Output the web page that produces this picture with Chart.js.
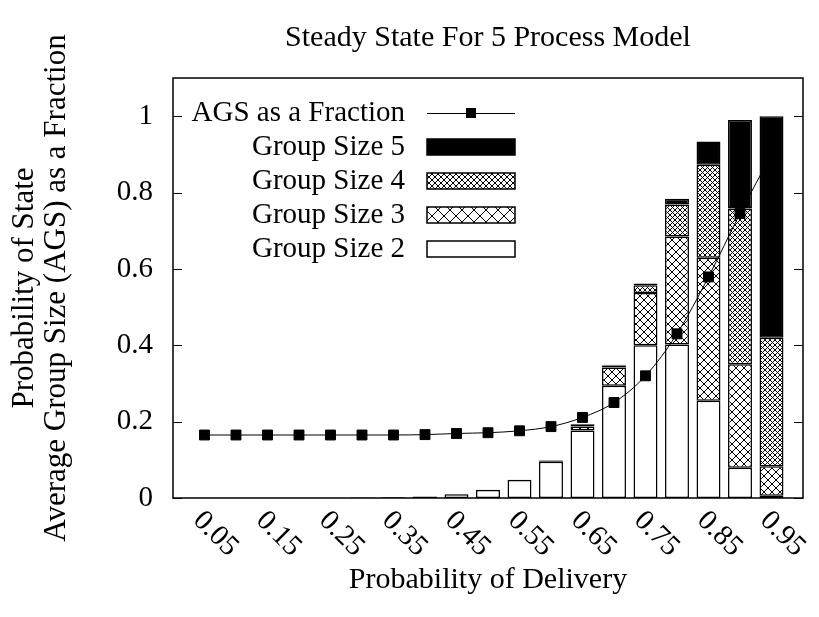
<!DOCTYPE html>
<html>
<head>
<meta charset="utf-8">
<script src="https://cdn.jsdelivr.net/npm/chart.js@4/dist/chart.umd.min.js"></script>
<style>
  html, body { margin: 0; padding: 0; background: #fff; }
  #wrap { width: 819px; height: 617px; }
</style>
</head>
<body>
<div id="wrap"><canvas id="chart" width="819" height="617"></canvas></div>
<script>
// probability of delivery (one bar per value)
const deliveryProb = [0.05, 0.10, 0.15, 0.20, 0.25, 0.30, 0.35, 0.40, 0.45, 0.50,
                      0.55, 0.60, 0.65, 0.70, 0.75, 0.80, 0.85, 0.90, 0.95];
const xTickValues = [0.05, 0.15, 0.25, 0.35, 0.45, 0.55, 0.65, 0.75, 0.85, 0.95];
const xTickLabels = ['0.05', '0.15', '0.25', '0.35', '0.45', '0.55', '0.65', '0.75', '0.85', '0.95'];
const yTickValues = [0, 0.2, 0.4, 0.6, 0.8, 1];

// probability of each group size state
const groupSize2 = [0.0005, 0.0005, 0.0005, 0.0005, 0.0008, 0.001, 0.002, 0.004, 0.010, 0.021,
                    0.047, 0.095, 0.177, 0.294, 0.400, 0.402, 0.255, 0.079, 0.006];
const groupSize3 = [0, 0, 0, 0, 0, 0, 0, 0, 0.0005, 0.0005,
                    0.001, 0.003, 0.010, 0.048, 0.137, 0.283, 0.374, 0.271, 0.077];
const groupSize4 = [0, 0, 0, 0, 0, 0, 0, 0, 0, 0,
                    0, 0.001, 0.005, 0.005, 0.020, 0.084, 0.244, 0.408, 0.337];
const groupSize5 = [0, 0, 0, 0, 0, 0, 0, 0, 0, 0,
                    0, 0.0005, 0.002, 0.002, 0.005, 0.015, 0.061, 0.232, 0.580];
// average group size as a fraction
const agsFraction = [0.165, 0.165, 0.165, 0.165, 0.165, 0.165, 0.165, 0.166, 0.169, 0.171,
                     0.176, 0.187, 0.211, 0.250, 0.320, 0.430, 0.579, 0.745, 0.900];

const FONT = '"Liberation Serif", "Times New Roman", serif';

function makeHatch(step) {
    const c = document.createElement('canvas');
    c.width = step; c.height = step;
    const g = c.getContext('2d');
    g.fillStyle = '#fff';
    g.fillRect(0, 0, step, step);
    g.strokeStyle = '#000';
    g.lineWidth = 1;
    g.beginPath();
    g.moveTo(0, 0); g.lineTo(step, step);
    g.moveTo(step, 0); g.lineTo(0, step);
    g.stroke();
    return g.createPattern(c, 'repeat');
}
const hatch3 = makeHatch(8);
const hatch4 = makeHatch(5);

function pts(values) {
    return values.map((v, i) => ({ x: deliveryProb[i], y: v }));
}

function barSet(label, values, fill) {
    return {
        type: 'bar',
        label: label,
        data: pts(values),
        backgroundColor: fill,
        borderColor: '#000',
        borderWidth: 1.5,
        borderSkipped: false,
        barPercentage: 0.95,
        categoryPercentage: 0.8,
        stack: 'groups',
        order: 1
    };
}

const legendItems = [
    { label: 'AGS as a Fraction', kind: 'line' },
    { label: 'Group Size 5', fill: '#000' },
    { label: 'Group Size 4', fill: makeHatch(6) },
    { label: 'Group Size 3', fill: makeHatch(12) },
    { label: 'Group Size 2', fill: '#fff' }
];

const decorations = {
    id: 'decorations',
    afterDraw(chart) {
        const ctx = chart.ctx;
        const area = chart.chartArea;
        const xs = chart.scales.x;
        const ys = chart.scales.y;
        ctx.save();
        // frame
        ctx.strokeStyle = '#000';
        ctx.lineWidth = 1.5;
        ctx.strokeRect(area.left, area.top, area.right - area.left, area.bottom - area.top);
        // inward y ticks on both sides
        ctx.lineWidth = 1;
        ys.ticks.forEach(t => {
            const y = Math.round(ys.getPixelForValue(t.value)) + 0.5;
            ctx.beginPath();
            ctx.moveTo(area.left, y); ctx.lineTo(area.left + 9, y);
            ctx.moveTo(area.right, y); ctx.lineTo(area.right - 9, y);
            ctx.stroke();
        });
        // rotated x tick labels
        ctx.fillStyle = '#000';
        ctx.font = '29px ' + FONT;
        ctx.textAlign = 'left';
        ctx.textBaseline = 'middle';
        xs.ticks.forEach((t, i) => {
            const x = xs.getPixelForValue(t.value);
            ctx.save();
            ctx.translate(x - 7, area.bottom + 18);
            ctx.rotate(Math.PI / 4);
            ctx.fillText(xTickLabels[i], 0, 0);
            ctx.restore();
        });
        // legend
        const textRight = 405, symLeft = 427, symRight = 515;
        legendItems.forEach((item, i) => {
            const y = 113 + i * 34;
            ctx.fillStyle = '#000';
            ctx.textAlign = 'right';
            ctx.fillText(item.label, textRight, y);
            if (item.kind === 'line') {
                ctx.lineWidth = 1;
                ctx.beginPath();
                ctx.moveTo(symLeft, y + 0.5); ctx.lineTo(symRight, y + 0.5);
                ctx.stroke();
                ctx.fillRect((symLeft + symRight) / 2 - 5, y - 5, 10, 10);
            } else {
                ctx.fillStyle = item.fill;
                ctx.fillRect(symLeft, y - 8, symRight - symLeft, 16);
                ctx.lineWidth = 1.5;
                ctx.strokeRect(symLeft, y - 8, symRight - symLeft, 16);
            }
        });
        ctx.restore();
    }
};

new Chart(document.getElementById('chart'), {
    data: {
        datasets: [
            {
                type: 'line',
                label: 'AGS as a Fraction',
                data: pts(agsFraction),
                borderColor: '#000',
                backgroundColor: '#000',
                borderWidth: 1,
                pointStyle: 'rect',
                pointRadius: 7,
                cubicInterpolationMode: 'monotone',
                stack: 'ags',
                order: 0
            },
            barSet('Group Size 2', groupSize2, '#fff'),
            barSet('Group Size 3', groupSize3, hatch3),
            barSet('Group Size 4', groupSize4, hatch4),
            barSet('Group Size 5', groupSize5, '#000')
        ]
    },
    options: {
        responsive: false,
        animation: false,
        layout: { padding: { top: 0, right: 16, bottom: 0, left: 0 } },
        plugins: {
            legend: { display: false },
            tooltip: { enabled: false },
            title: {
                display: true,
                text: 'Steady State For 5 Process Model',
                fullSize: false,
                color: '#000',
                font: { family: FONT, size: 30, weight: 'normal', lineHeight: 1.2 },
                padding: { top: 20, bottom: 22 }
            }
        },
        scales: {
            x: {
                type: 'linear',
                min: 0,
                max: 1,
                offset: false,
                stacked: true,
                grid: { display: false, offset: false },
                border: { display: false },
                ticks: { display: false },
                afterBuildTicks: s => { s.ticks = xTickValues.map(v => ({ value: v })); },
                afterFit: s => { s.height = 119; },
                title: {
                    display: true,
                    text: 'Probability of Delivery',
                    color: '#000',
                    font: { family: FONT, size: 30, lineHeight: 1.2 },
                    padding: { top: 0, bottom: 19 }
                }
            },
            y: {
                min: 0,
                max: 1.1,
                stacked: true,
                grid: { display: false, drawTicks: false },
                border: { display: false },
                afterBuildTicks: s => { s.ticks = yTickValues.map(v => ({ value: v })); },
                afterFit: s => { s.width = 173; },
                ticks: {
                    color: '#000',
                    padding: 20,
                    font: { family: FONT, size: 29 },
                    callback: v => String(Math.round(v * 10) / 10)
                },
                title: {
                    display: true,
                    text: ['Probability of State', 'Average Group Size (AGS) as a Fraction'],
                    color: '#000',
                    font: { family: FONT, size: 31, lineHeight: 1.03 },
                    padding: { top: 9, bottom: 0 }
                }
            }
        }
    },
    plugins: [decorations]
});
</script>
</body>
</html>
